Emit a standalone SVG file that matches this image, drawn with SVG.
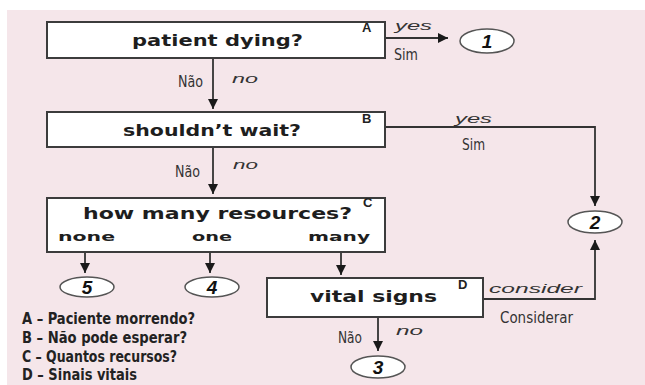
<svg xmlns="http://www.w3.org/2000/svg" width="645" height="385" viewBox="0 0 645 385">
<defs>
<marker id="ah" viewBox="0 0 10 10" refX="10" refY="5" markerWidth="10" markerHeight="10" markerUnits="userSpaceOnUse" orient="auto">
<path d="M0,0 L10,5 L0,10 z" fill="#1a1a1a"/>
</marker>
<style>
.box{fill:#fff;stroke:#3c3c3c;stroke-width:2}
.circ{fill:#fff;stroke:#555;stroke-width:1.5}
.q{font-family:"DejaVu Sans",sans-serif;font-weight:bold;font-size:15px;fill:#1e1e1e}
.opt{font-family:"DejaVu Sans",sans-serif;font-weight:bold;font-size:12px;fill:#1e1e1e}
.let{font-family:"Liberation Sans",Arial,sans-serif;font-weight:bold;font-size:13px;fill:#222}
.num{font-family:"Liberation Sans",Arial,sans-serif;font-weight:bold;font-style:italic;font-size:19px;fill:#111;text-anchor:middle}
.en{font-family:"Liberation Sans",Arial,sans-serif;font-style:italic;font-size:13px;fill:#333}
.pt{font-family:"Liberation Sans Narrow","DejaVu Sans Condensed",sans-serif;font-size:15px;fill:#333}
.leg{font-family:"Liberation Sans Narrow","DejaVu Sans Condensed",sans-serif;font-weight:bold;font-size:16px;fill:#222}
.con{fill:none;stroke:#333;stroke-width:1.8}
</style>
</defs>
<rect x="0" y="0" width="645" height="385" fill="#fff"/>
<rect x="7" y="10" width="638" height="375" fill="#f5e6ea"/>

<g id="connectors">
<line class="con" x1="213" y1="58" x2="213" y2="109" marker-end="url(#ah)"/>
<line class="con" x1="385" y1="38" x2="448" y2="38" marker-end="url(#ah)"/>
<polyline class="con" points="385,127 595,127 595,206" marker-end="url(#ah)"/>
<line class="con" x1="213" y1="147" x2="213" y2="194" marker-end="url(#ah)"/>
<line class="con" x1="85" y1="252" x2="85" y2="273" marker-end="url(#ah)"/>
<line class="con" x1="210" y1="252" x2="210" y2="273" marker-end="url(#ah)"/>
<line class="con" x1="341" y1="252" x2="341" y2="275" marker-end="url(#ah)"/>
<polyline class="con" points="483,299 595,299 595,240" marker-end="url(#ah)"/>
<line class="con" x1="378" y1="317" x2="378" y2="351" marker-end="url(#ah)"/>
<text class="pt" x="178" y="87" textLength="25" lengthAdjust="spacingAndGlyphs">Não</text>
<text class="en" x="232" y="83" textLength="26" lengthAdjust="spacingAndGlyphs">no</text>
<text class="en" x="395" y="30" textLength="37" lengthAdjust="spacingAndGlyphs">yes</text>
<text class="pt" x="394" y="60" textLength="24" lengthAdjust="spacingAndGlyphs">Sim</text>
<text class="en" x="455" y="123" textLength="37" lengthAdjust="spacingAndGlyphs">yes</text>
<text class="pt" x="462" y="150" textLength="23" lengthAdjust="spacingAndGlyphs">Sim</text>
<text class="pt" x="175" y="177" textLength="25" lengthAdjust="spacingAndGlyphs">Não</text>
<text class="en" x="233" y="169" textLength="25" lengthAdjust="spacingAndGlyphs">no</text>
<text class="en" x="489" y="293" textLength="93" lengthAdjust="spacingAndGlyphs">consider</text>
<text class="pt" x="500" y="323" textLength="73" lengthAdjust="spacingAndGlyphs">Considerar</text>
<text class="pt" x="338" y="343" textLength="24" lengthAdjust="spacingAndGlyphs">Não</text>
<text class="en" x="396" y="335" textLength="27" lengthAdjust="spacingAndGlyphs">no</text>
</g>

<g id="nodeA">
<rect class="box" x="47" y="22" width="338" height="36"/>
<text class="q" x="132" y="46" textLength="171" lengthAdjust="spacingAndGlyphs">patient dying?</text>
<text class="let" x="362" y="32">A</text>
</g>
<g id="nodeB">
<rect class="box" x="47" y="112" width="338" height="35"/>
<text class="q" x="123" y="136" textLength="178" lengthAdjust="spacingAndGlyphs">shouldn’t wait?</text>
<text class="let" x="362" y="123">B</text>
</g>
<g id="nodeC">
<rect class="box" x="47" y="198" width="338" height="54"/>
<text class="q" x="83" y="219" textLength="269" lengthAdjust="spacingAndGlyphs">how many resources?</text>
<text class="let" x="363" y="207">C</text>
<text class="opt" x="58" y="241" textLength="57" lengthAdjust="spacingAndGlyphs">none</text>
<text class="opt" x="192" y="241" textLength="40" lengthAdjust="spacingAndGlyphs">one</text>
<text class="opt" x="308" y="241" textLength="62" lengthAdjust="spacingAndGlyphs">many</text>
</g>
<g id="nodeD">
<rect class="box" x="267" y="278" width="216" height="39"/>
<text class="q" x="310" y="302" textLength="127" lengthAdjust="spacingAndGlyphs">vital signs</text>
<text class="let" x="458" y="289">D</text>
</g>
<g id="out1">
<ellipse class="circ" cx="487" cy="41" rx="27" ry="12"/>
<text class="num" x="487" y="48">1</text>
</g>
<g id="out2">
<ellipse class="circ" cx="595" cy="222" rx="27" ry="11"/>
<text class="num" x="595" y="229">2</text>
</g>
<g id="out3">
<ellipse class="circ" cx="378" cy="367" rx="27" ry="11"/>
<text class="num" x="378" y="374">3</text>
</g>
<g id="out4">
<ellipse class="circ" cx="212" cy="287" rx="27" ry="10"/>
<text class="num" x="212" y="294">4</text>
</g>
<g id="out5">
<ellipse class="circ" cx="87" cy="287" rx="27" ry="10"/>
<text class="num" x="87" y="294">5</text>
</g>

<g id="legend">
<text class="leg" x="22" y="324" textLength="173" lengthAdjust="spacingAndGlyphs">A – Paciente morrendo?</text>
<text class="leg" x="22" y="343" textLength="165" lengthAdjust="spacingAndGlyphs">B – Não pode esperar?</text>
<text class="leg" x="22" y="362" textLength="155" lengthAdjust="spacingAndGlyphs">C – Quantos recursos?</text>
<text class="leg" x="22" y="380" textLength="115" lengthAdjust="spacingAndGlyphs">D – Sinais vitais</text>
</g>
</svg>
